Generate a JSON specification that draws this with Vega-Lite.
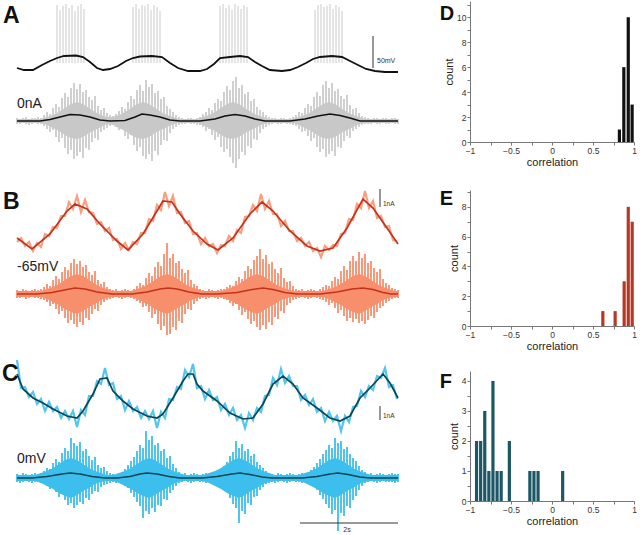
{
"$schema":"https://vega.github.io/schema/vega-lite/v6.json",
"padding":0,
"background":"white",
"config":{"font":"Liberation Sans","view":{"stroke":null},
 "axis":{"grid":false,"domainColor":"#777","tickColor":"#777","tickSize":3,"labelFontSize":8.5,"labelColor":"#333","labelPadding":1,"titleFontSize":11,"titleFontWeight":"normal","titleColor":"#222","titlePadding":2,"labelFlush":false,"labelOverlap":false}},
"hconcat":[
{"spacing":0,"vconcat":[
 {"width":399,"height":170,
  "encoding":{"x":{"field":"x","type":"quantitative","scale":{"domain":[-17,382],"nice":false,"zero":false},"axis":null},
              "y":{"field":"y","type":"quantitative","scale":{"domain":[0,170],"reverse":true,"nice":false,"zero":false},"axis":null}},
  "layer":[
   {"data":{"values":[
{"x":0,"y":117,"y2":123},{"x":3,"y":118,"y2":123},{"x":6,"y":117,"y2":122},{"x":9,"y":116,"y2":123},{"x":12,"y":118,"y2":124},{"x":15,"y":117,"y2":123},{"x":18,"y":117,"y2":122},{"x":21,"y":116,"y2":123},{"x":24,"y":117,"y2":123},{"x":27,"y":114,"y2":125},{"x":30,"y":111,"y2":128},{"x":33,"y":113,"y2":131},{"x":36,"y":107,"y2":129},{"x":39,"y":103,"y2":136},{"x":42,"y":106,"y2":141},{"x":45,"y":97,"y2":137},{"x":48,"y":92,"y2":147},{"x":51,"y":96,"y2":153},{"x":54,"y":87,"y2":149},{"x":57,"y":82,"y2":158},{"x":60,"y":88,"y2":155},{"x":63,"y":83,"y2":151},{"x":66,"y":91,"y2":157},{"x":69,"y":89,"y2":147},{"x":72,"y":96,"y2":149},{"x":75,"y":99,"y2":141},{"x":78,"y":95,"y2":137},{"x":81,"y":105,"y2":139},{"x":84,"y":109,"y2":131},{"x":87,"y":107,"y2":129},{"x":90,"y":112,"y2":127},{"x":93,"y":114,"y2":125},{"x":96,"y":115,"y2":124},{"x":99,"y":113,"y2":126},{"x":102,"y":110,"y2":129},{"x":105,"y":106,"y2":128},{"x":108,"y":108,"y2":135},{"x":111,"y":101,"y2":138},{"x":114,"y":95,"y2":134},{"x":117,"y":98,"y2":144},{"x":120,"y":89,"y2":150},{"x":123,"y":84,"y2":146},{"x":126,"y":90,"y2":155},{"x":129,"y":79,"y2":158},{"x":132,"y":86,"y2":153},{"x":135,"y":83,"y2":160},{"x":138,"y":92,"y2":150},{"x":141,"y":90,"y2":154},{"x":144,"y":98,"y2":144},{"x":147,"y":96,"y2":139},{"x":150,"y":105,"y2":140},{"x":153,"y":108,"y2":132},{"x":156,"y":111,"y2":128},{"x":159,"y":114,"y2":126},{"x":162,"y":116,"y2":124},{"x":165,"y":117,"y2":123},{"x":168,"y":118,"y2":123},{"x":171,"y":117,"y2":122},{"x":174,"y":117,"y2":123},{"x":177,"y":118,"y2":123},{"x":180,"y":117,"y2":124},{"x":183,"y":116,"y2":124},{"x":186,"y":113,"y2":126},{"x":189,"y":111,"y2":130},{"x":192,"y":107,"y2":128},{"x":195,"y":109,"y2":134},{"x":198,"y":102,"y2":139},{"x":201,"y":98,"y2":136},{"x":204,"y":100,"y2":146},{"x":207,"y":91,"y2":151},{"x":210,"y":85,"y2":148},{"x":213,"y":89,"y2":156},{"x":216,"y":80,"y2":162},{"x":219,"y":76,"y2":167},{"x":222,"y":87,"y2":158},{"x":225,"y":84,"y2":151},{"x":228,"y":93,"y2":154},{"x":231,"y":91,"y2":145},{"x":234,"y":100,"y2":147},{"x":237,"y":98,"y2":138},{"x":240,"y":106,"y2":139},{"x":243,"y":109,"y2":132},{"x":246,"y":111,"y2":128},{"x":249,"y":114,"y2":126},{"x":252,"y":116,"y2":124},{"x":255,"y":117,"y2":123},{"x":258,"y":117,"y2":122},{"x":261,"y":118,"y2":123},{"x":264,"y":117,"y2":123},{"x":267,"y":117,"y2":122},{"x":270,"y":118,"y2":123},{"x":273,"y":117,"y2":123},{"x":276,"y":116,"y2":124},{"x":279,"y":114,"y2":125},{"x":282,"y":111,"y2":128},{"x":285,"y":112,"y2":131},{"x":288,"y":107,"y2":130},{"x":291,"y":103,"y2":135},{"x":294,"y":105,"y2":140},{"x":297,"y":96,"y2":137},{"x":300,"y":91,"y2":146},{"x":303,"y":95,"y2":151},{"x":306,"y":84,"y2":148},{"x":309,"y":80,"y2":156},{"x":312,"y":87,"y2":153},{"x":315,"y":82,"y2":150},{"x":318,"y":90,"y2":155},{"x":321,"y":88,"y2":146},{"x":324,"y":95,"y2":147},{"x":327,"y":98,"y2":140},{"x":330,"y":94,"y2":135},{"x":333,"y":104,"y2":137},{"x":336,"y":108,"y2":130},{"x":339,"y":107,"y2":128},{"x":342,"y":112,"y2":126},{"x":345,"y":115,"y2":124},{"x":348,"y":116,"y2":123},{"x":351,"y":117,"y2":123},{"x":354,"y":118,"y2":123},{"x":357,"y":117,"y2":122},{"x":360,"y":117,"y2":123},{"x":363,"y":118,"y2":123},{"x":366,"y":117,"y2":122},{"x":369,"y":117,"y2":123},{"x":372,"y":118,"y2":123},{"x":375,"y":117,"y2":122},{"x":378,"y":117,"y2":123},{"x":381,"y":118,"y2":123}
   ]},"mark":{"type":"rule","color":"#cbcbcb","strokeWidth":1.8},"encoding":{"y2":{"field":"y2"}}},
   {"data":{"values":[
{"x":0,"y":118,"y2":122},{"x":6,"y":118,"y2":122},{"x":12,"y":118,"y2":122},{"x":18,"y":118,"y2":122},{"x":24,"y":118,"y2":122},{"x":30,"y":116,"y2":124},{"x":36,"y":114,"y2":127},{"x":42,"y":111,"y2":130},{"x":48,"y":107,"y2":134},{"x":54,"y":103,"y2":137},{"x":60,"y":101,"y2":138},{"x":66,"y":103,"y2":136},{"x":72,"y":107,"y2":132},{"x":78,"y":111,"y2":129},{"x":84,"y":114,"y2":126},{"x":90,"y":116,"y2":123},{"x":96,"y":116,"y2":124},{"x":102,"y":114,"y2":127},{"x":108,"y":111,"y2":130},{"x":114,"y":107,"y2":134},{"x":120,"y":103,"y2":137},{"x":126,"y":101,"y2":138},{"x":132,"y":103,"y2":136},{"x":138,"y":107,"y2":132},{"x":144,"y":111,"y2":129},{"x":150,"y":114,"y2":126},{"x":156,"y":116,"y2":123},{"x":162,"y":118,"y2":122},{"x":168,"y":118,"y2":122},{"x":174,"y":118,"y2":122},{"x":180,"y":118,"y2":122},{"x":186,"y":116,"y2":124},{"x":192,"y":114,"y2":127},{"x":198,"y":111,"y2":130},{"x":204,"y":107,"y2":134},{"x":210,"y":103,"y2":137},{"x":216,"y":101,"y2":138},{"x":222,"y":103,"y2":136},{"x":228,"y":107,"y2":132},{"x":234,"y":111,"y2":129},{"x":240,"y":114,"y2":126},{"x":246,"y":116,"y2":123},{"x":252,"y":118,"y2":122},{"x":258,"y":118,"y2":122},{"x":264,"y":118,"y2":122},{"x":270,"y":118,"y2":122},{"x":276,"y":118,"y2":122},{"x":282,"y":116,"y2":124},{"x":288,"y":114,"y2":127},{"x":294,"y":111,"y2":130},{"x":300,"y":107,"y2":134},{"x":306,"y":103,"y2":137},{"x":312,"y":101,"y2":138},{"x":318,"y":103,"y2":136},{"x":324,"y":107,"y2":132},{"x":330,"y":111,"y2":129},{"x":336,"y":114,"y2":126},{"x":342,"y":116,"y2":123},{"x":348,"y":118,"y2":122},{"x":354,"y":118,"y2":122},{"x":360,"y":118,"y2":122},{"x":366,"y":118,"y2":122},{"x":372,"y":118,"y2":122},{"x":378,"y":118,"y2":122},{"x":381,"y":118,"y2":122}
   ]},"mark":{"type":"area","color":"#c8c8c8"},"encoding":{"y2":{"field":"y2"}}},
   {"data":{"values":[
{"x":40,"y":4},{"x":43,"y":9},{"x":46,"y":5},{"x":49,"y":3},{"x":52,"y":7},{"x":55,"y":4},{"x":58,"y":10},{"x":61,"y":5},{"x":64,"y":3},{"x":67,"y":8},
{"x":116,"y":6},{"x":119,"y":3},{"x":122,"y":8},{"x":125,"y":4},{"x":128,"y":5},{"x":131,"y":3},{"x":134,"y":9},{"x":137,"y":4},{"x":140,"y":6},{"x":143,"y":10},
{"x":203,"y":5},{"x":206,"y":3},{"x":209,"y":7},{"x":212,"y":4},{"x":215,"y":9},{"x":218,"y":3},{"x":221,"y":5},{"x":224,"y":8},{"x":227,"y":4},{"x":230,"y":6},
{"x":298,"y":9},{"x":301,"y":4},{"x":304,"y":3},{"x":307,"y":6},{"x":310,"y":5},{"x":313,"y":3},{"x":316,"y":8},{"x":319,"y":4},{"x":322,"y":6},{"x":325,"y":10}
   ]},"mark":{"type":"rule","color":"#c4c4c4","strokeWidth":0.9},"encoding":{"y2":{"datum":62}}},
   {"data":{"values":[
{"x":0,"y":67},{"x":7,"y":69},{"x":16,"y":69},{"x":25,"y":64},{"x":33,"y":60},{"x":40,"y":57},{"x":47,"y":55},{"x":59,"y":54.5},{"x":66,"y":56},{"x":73,"y":61},{"x":80,"y":67},{"x":86,"y":69},{"x":93,"y":68},{"x":101,"y":65},{"x":109,"y":60},{"x":116,"y":57},{"x":123,"y":55.5},{"x":135,"y":55},{"x":145,"y":56},{"x":153,"y":62},{"x":161,"y":67},{"x":171,"y":70},{"x":183,"y":70},{"x":190,"y":68},{"x":197,"y":63},{"x":203,"y":57},{"x":213,"y":56},{"x":223,"y":55},{"x":231,"y":56},{"x":238,"y":61},{"x":245,"y":65},{"x":253,"y":69},{"x":265,"y":70},{"x":273,"y":69},{"x":281,"y":66},{"x":289,"y":62},{"x":296,"y":58},{"x":303,"y":56},{"x":315,"y":55},{"x":325,"y":56},{"x":333,"y":60},{"x":341,"y":64},{"x":349,"y":68},{"x":358,"y":70},{"x":368,"y":71},{"x":381,"y":71}
   ]},"mark":{"type":"line","color":"#111","strokeWidth":1.8},"encoding":{}},
   {"data":{"values":[
{"x":0,"y":120},{"x":23,"y":120},{"x":33,"y":118.5},{"x":43,"y":116},{"x":53,"y":113.5},{"x":63,"y":114},{"x":73,"y":116},{"x":83,"y":119},{"x":93,"y":120},{"x":108,"y":119.5},{"x":118,"y":116},{"x":125,"y":113},{"x":133,"y":114},{"x":143,"y":116},{"x":153,"y":119},{"x":163,"y":120},{"x":183,"y":120},{"x":198,"y":118},{"x":208,"y":115},{"x":218,"y":113.5},{"x":228,"y":115},{"x":238,"y":118},{"x":248,"y":120},{"x":273,"y":120},{"x":288,"y":118},{"x":301,"y":115},{"x":313,"y":113},{"x":323,"y":114.5},{"x":333,"y":117},{"x":343,"y":120},{"x":381,"y":120}
   ]},"mark":{"type":"line","color":"#111","strokeWidth":1.6},"encoding":{}},
   {"data":{"values":[{"x":356,"y":35,"y2":67}]},"mark":{"type":"rule","color":"#333","strokeWidth":1},"encoding":{"y2":{"field":"y2"}}},
   {"data":{"values":[{"x":360,"y":62,"t":"50mV"}]},"mark":{"type":"text","align":"left","baseline":"alphabetic","fontSize":7,"color":"#333"},"encoding":{"text":{"field":"t"}}},
   {"data":{"values":[{"x":0,"y":107,"t":"0nA"}]},"mark":{"type":"text","align":"left","baseline":"alphabetic","fontSize":14,"color":"#222"},"encoding":{"text":{"field":"t"}}},
   {"data":{"values":[{"x":-14,"y":22,"t":"A"}]},"mark":{"type":"text","align":"left","baseline":"alphabetic","fontSize":23,"fontWeight":"bold","color":"#111"},"encoding":{"text":{"field":"t"}}}
  ]},
 {"width":399,"height":165,
  "encoding":{"x":{"field":"x","type":"quantitative","scale":{"domain":[-17,382],"nice":false,"zero":false},"axis":null},
              "y":{"field":"y","type":"quantitative","scale":{"domain":[0,165],"reverse":true,"nice":false,"zero":false},"axis":null}},
  "layer":[
   {"data":{"values":[
{"x":0,"y":119,"y2":127},{"x":3,"y":120,"y2":127},{"x":6,"y":118,"y2":126},{"x":9,"y":119,"y2":128},{"x":12,"y":120,"y2":127},{"x":15,"y":119,"y2":126},{"x":18,"y":118,"y2":127},{"x":21,"y":119,"y2":127},{"x":24,"y":118,"y2":128},{"x":27,"y":116,"y2":129},{"x":30,"y":113,"y2":131},{"x":33,"y":115,"y2":135},{"x":36,"y":109,"y2":133},{"x":39,"y":105,"y2":138},{"x":42,"y":108,"y2":143},{"x":45,"y":101,"y2":140},{"x":48,"y":96,"y2":147},{"x":51,"y":99,"y2":152},{"x":54,"y":92,"y2":149},{"x":57,"y":88,"y2":153},{"x":60,"y":93,"y2":156},{"x":63,"y":90,"y2":151},{"x":66,"y":96,"y2":154},{"x":69,"y":94,"y2":147},{"x":72,"y":101,"y2":149},{"x":75,"y":104,"y2":143},{"x":78,"y":100,"y2":138},{"x":81,"y":109,"y2":140},{"x":84,"y":113,"y2":134},{"x":87,"y":111,"y2":131},{"x":90,"y":116,"y2":129},{"x":93,"y":118,"y2":128},{"x":96,"y":119,"y2":127},{"x":99,"y":118,"y2":126},{"x":102,"y":120,"y2":127},{"x":105,"y":119,"y2":128},{"x":108,"y":118,"y2":127},{"x":111,"y":119,"y2":126},{"x":114,"y":120,"y2":127},{"x":117,"y":118,"y2":128},{"x":120,"y":115,"y2":130},{"x":123,"y":112,"y2":132},{"x":126,"y":114,"y2":136},{"x":129,"y":107,"y2":135},{"x":132,"y":102,"y2":141},{"x":135,"y":105,"y2":147},{"x":138,"y":96,"y2":143},{"x":141,"y":91,"y2":153},{"x":144,"y":95,"y2":159},{"x":147,"y":83,"y2":155},{"x":150,"y":72,"y2":164},{"x":153,"y":87,"y2":163},{"x":156,"y":83,"y2":156},{"x":159,"y":92,"y2":159},{"x":162,"y":90,"y2":150},{"x":165,"y":98,"y2":152},{"x":168,"y":102,"y2":143},{"x":171,"y":99,"y2":138},{"x":174,"y":109,"y2":139},{"x":177,"y":113,"y2":133},{"x":180,"y":115,"y2":130},{"x":183,"y":118,"y2":128},{"x":186,"y":119,"y2":127},{"x":189,"y":120,"y2":128},{"x":192,"y":118,"y2":127},{"x":195,"y":119,"y2":126},{"x":198,"y":120,"y2":127},{"x":201,"y":119,"y2":128},{"x":204,"y":118,"y2":127},{"x":207,"y":118,"y2":128},{"x":210,"y":116,"y2":129},{"x":213,"y":114,"y2":132},{"x":216,"y":115,"y2":135},{"x":219,"y":110,"y2":133},{"x":222,"y":106,"y2":139},{"x":225,"y":108,"y2":144},{"x":228,"y":100,"y2":141},{"x":231,"y":95,"y2":148},{"x":234,"y":98,"y2":153},{"x":237,"y":89,"y2":150},{"x":240,"y":85,"y2":156},{"x":243,"y":78,"y2":159},{"x":246,"y":88,"y2":154},{"x":249,"y":84,"y2":158},{"x":252,"y":93,"y2":151},{"x":255,"y":91,"y2":154},{"x":258,"y":98,"y2":146},{"x":261,"y":102,"y2":148},{"x":264,"y":97,"y2":140},{"x":267,"y":107,"y2":142},{"x":270,"y":111,"y2":134},{"x":273,"y":110,"y2":132},{"x":276,"y":115,"y2":129},{"x":279,"y":118,"y2":128},{"x":282,"y":119,"y2":127},{"x":285,"y":118,"y2":126},{"x":288,"y":120,"y2":127},{"x":291,"y":119,"y2":128},{"x":294,"y":118,"y2":127},{"x":297,"y":119,"y2":126},{"x":300,"y":120,"y2":127},{"x":303,"y":118,"y2":128},{"x":306,"y":116,"y2":129},{"x":309,"y":114,"y2":131},{"x":312,"y":115,"y2":134},{"x":315,"y":110,"y2":132},{"x":318,"y":106,"y2":137},{"x":321,"y":108,"y2":142},{"x":324,"y":100,"y2":139},{"x":327,"y":95,"y2":145},{"x":330,"y":99,"y2":150},{"x":333,"y":90,"y2":147},{"x":336,"y":85,"y2":151},{"x":339,"y":90,"y2":148},{"x":342,"y":81,"y2":152},{"x":345,"y":87,"y2":150},{"x":348,"y":83,"y2":153},{"x":351,"y":92,"y2":149},{"x":354,"y":90,"y2":145},{"x":357,"y":97,"y2":147},{"x":360,"y":101,"y2":141},{"x":363,"y":98,"y2":137},{"x":366,"y":108,"y2":135},{"x":369,"y":112,"y2":132},{"x":372,"y":114,"y2":130},{"x":375,"y":117,"y2":128},{"x":378,"y":118,"y2":127},{"x":381,"y":119,"y2":127}
   ]},"mark":{"type":"rule","color":"#f78e6c","strokeWidth":1.8},"encoding":{"y2":{"field":"y2"}}},
   {"data":{"values":[
{"x":0,"y":120,"y2":126},{"x":6,"y":120,"y2":126},{"x":12,"y":120,"y2":126},{"x":18,"y":120,"y2":126},{"x":24,"y":120,"y2":126},{"x":30,"y":118,"y2":128},{"x":36,"y":116,"y2":131},{"x":42,"y":113,"y2":134},{"x":48,"y":109,"y2":138},{"x":54,"y":105,"y2":141},{"x":60,"y":103,"y2":143},{"x":66,"y":105,"y2":140},{"x":72,"y":109,"y2":136},{"x":78,"y":113,"y2":133},{"x":84,"y":116,"y2":129},{"x":90,"y":118,"y2":127},{"x":96,"y":120,"y2":126},{"x":102,"y":120,"y2":126},{"x":108,"y":120,"y2":126},{"x":114,"y":120,"y2":126},{"x":120,"y":118,"y2":128},{"x":126,"y":116,"y2":131},{"x":132,"y":113,"y2":134},{"x":138,"y":109,"y2":138},{"x":144,"y":105,"y2":141},{"x":150,"y":103,"y2":143},{"x":156,"y":105,"y2":140},{"x":162,"y":109,"y2":136},{"x":168,"y":113,"y2":133},{"x":174,"y":116,"y2":129},{"x":180,"y":118,"y2":127},{"x":186,"y":120,"y2":126},{"x":192,"y":120,"y2":126},{"x":198,"y":120,"y2":126},{"x":204,"y":120,"y2":126},{"x":210,"y":118,"y2":128},{"x":216,"y":116,"y2":131},{"x":222,"y":113,"y2":134},{"x":228,"y":109,"y2":138},{"x":234,"y":105,"y2":141},{"x":240,"y":103,"y2":143},{"x":246,"y":105,"y2":140},{"x":252,"y":109,"y2":136},{"x":258,"y":113,"y2":133},{"x":264,"y":116,"y2":129},{"x":270,"y":118,"y2":127},{"x":276,"y":120,"y2":126},{"x":282,"y":120,"y2":126},{"x":288,"y":120,"y2":126},{"x":294,"y":120,"y2":126},{"x":300,"y":120,"y2":126},{"x":306,"y":120,"y2":126},{"x":312,"y":118,"y2":128},{"x":318,"y":116,"y2":131},{"x":324,"y":113,"y2":134},{"x":330,"y":109,"y2":138},{"x":336,"y":105,"y2":141},{"x":342,"y":103,"y2":143},{"x":348,"y":105,"y2":140},{"x":354,"y":109,"y2":136},{"x":360,"y":113,"y2":133},{"x":366,"y":116,"y2":129},{"x":372,"y":118,"y2":127},{"x":378,"y":120,"y2":126},{"x":381,"y":120,"y2":126}
   ]},"mark":{"type":"area","color":"#f78e6c"},"encoding":{"y2":{"field":"y2"}}},
   {"data":{"values":[
{"x":0,"y":71},{"x":4,"y":67},{"x":8,"y":75},{"x":12,"y":71},{"x":16,"y":80},{"x":20,"y":72},{"x":24,"y":76},{"x":28,"y":63},{"x":32,"y":65},{"x":36,"y":56},{"x":40,"y":57},{"x":44,"y":45},{"x":48,"y":45},{"x":52,"y":31},{"x":56,"y":38},{"x":60,"y":25},{"x":64,"y":41},{"x":68,"y":29},{"x":72,"y":41},{"x":76,"y":42},{"x":80,"y":53},{"x":84,"y":51},{"x":88,"y":60},{"x":92,"y":57},{"x":96,"y":69},{"x":100,"y":68},{"x":104,"y":78},{"x":108,"y":72},{"x":112,"y":79},{"x":116,"y":71},{"x":120,"y":73},{"x":124,"y":62},{"x":128,"y":62},{"x":132,"y":48},{"x":136,"y":50},{"x":140,"y":34},{"x":144,"y":39},{"x":148,"y":21},{"x":152,"y":35},{"x":156,"y":25},{"x":160,"y":42},{"x":164,"y":41},{"x":168,"y":52},{"x":172,"y":50},{"x":176,"y":63},{"x":180,"y":62},{"x":184,"y":73},{"x":188,"y":67},{"x":192,"y":75},{"x":196,"y":73},{"x":200,"y":82},{"x":204,"y":74},{"x":208,"y":75},{"x":212,"y":65},{"x":216,"y":70},{"x":220,"y":59},{"x":224,"y":62},{"x":228,"y":46},{"x":232,"y":45},{"x":236,"y":34},{"x":240,"y":40},{"x":244,"y":23},{"x":248,"y":38},{"x":252,"y":30},{"x":256,"y":43},{"x":260,"y":43},{"x":264,"y":55},{"x":268,"y":50},{"x":272,"y":60},{"x":276,"y":60},{"x":280,"y":70},{"x":284,"y":67},{"x":288,"y":75},{"x":292,"y":71},{"x":296,"y":80},{"x":300,"y":77},{"x":304,"y":86},{"x":308,"y":75},{"x":312,"y":79},{"x":316,"y":74},{"x":320,"y":75},{"x":324,"y":63},{"x":328,"y":62},{"x":332,"y":48},{"x":336,"y":49},{"x":340,"y":33},{"x":344,"y":37},{"x":348,"y":20},{"x":352,"y":37},{"x":356,"y":30},{"x":360,"y":47},{"x":364,"y":45},{"x":368,"y":56},{"x":372,"y":55},{"x":376,"y":69},{"x":380,"y":70}
   ]},"mark":{"type":"line","color":"#f7a080","strokeWidth":2.2},"encoding":{}},
   {"data":{"values":[
{"x":0,"y":67},{"x":15,"y":78},{"x":33,"y":63},{"x":50,"y":40},{"x":58,"y":33},{"x":70,"y":38},{"x":83,"y":53},{"x":100,"y":70},{"x":111,"y":79},{"x":126,"y":63},{"x":140,"y":40},{"x":146,"y":30},{"x":155,"y":31},{"x":163,"y":43},{"x":176,"y":60},{"x":190,"y":73},{"x":201,"y":79},{"x":216,"y":67},{"x":233,"y":43},{"x":245,"y":31},{"x":256,"y":40},{"x":273,"y":60},{"x":290,"y":75},{"x":303,"y":80},{"x":316,"y":77},{"x":330,"y":57},{"x":346,"y":28},{"x":356,"y":37},{"x":370,"y":57},{"x":381,"y":73}
   ]},"mark":{"type":"line","color":"#c5321c","strokeWidth":1.7},"encoding":{}},
   {"data":{"values":[
{"x":0,"y":123},{"x":20,"y":123},{"x":35,"y":121.5},{"x":50,"y":118.5},{"x":58,"y":117},{"x":68,"y":118},{"x":80,"y":121},{"x":95,"y":123},{"x":115,"y":123},{"x":130,"y":121},{"x":143,"y":118},{"x":151,"y":117},{"x":160,"y":118},{"x":172,"y":121},{"x":185,"y":123},{"x":200,"y":123},{"x":220,"y":121.5},{"x":235,"y":118.5},{"x":246,"y":117},{"x":256,"y":118.5},{"x":268,"y":121.5},{"x":280,"y":123},{"x":303,"y":123},{"x":320,"y":121},{"x":335,"y":118},{"x":346,"y":117},{"x":356,"y":118.5},{"x":366,"y":121.5},{"x":374,"y":123},{"x":381,"y":123}
   ]},"mark":{"type":"line","color":"#c5321c","strokeWidth":1.5},"encoding":{}},
   {"data":{"values":[{"x":363,"y":18,"y2":36}]},"mark":{"type":"rule","color":"#333","strokeWidth":1},"encoding":{"y2":{"field":"y2"}}},
   {"data":{"values":[{"x":366,"y":35,"t":"1nA"}]},"mark":{"type":"text","align":"left","baseline":"alphabetic","fontSize":6.5,"color":"#333"},"encoding":{"text":{"field":"t"}}},
   {"data":{"values":[{"x":0,"y":100,"t":"-65mV"}]},"mark":{"type":"text","align":"left","baseline":"alphabetic","fontSize":14,"color":"#222"},"encoding":{"text":{"field":"t"}}},
   {"data":{"values":[{"x":-14,"y":38,"t":"B"}]},"mark":{"type":"text","align":"left","baseline":"alphabetic","fontSize":23,"fontWeight":"bold","color":"#111"},"encoding":{"text":{"field":"t"}}}
  ]},
 {"width":399,"height":200,
  "encoding":{"x":{"field":"x","type":"quantitative","scale":{"domain":[-17,382],"nice":false,"zero":false},"axis":null},
              "y":{"field":"y","type":"quantitative","scale":{"domain":[0,200],"reverse":true,"nice":false,"zero":false},"axis":null}},
  "layer":[
   {"data":{"values":[
{"x":0,"y":138,"y2":146},{"x":3,"y":139,"y2":147},{"x":6,"y":137,"y2":146},{"x":9,"y":138,"y2":145},{"x":12,"y":139,"y2":146},{"x":15,"y":138,"y2":147},{"x":18,"y":137,"y2":146},{"x":21,"y":138,"y2":146},{"x":24,"y":137,"y2":147},{"x":27,"y":135,"y2":148},{"x":30,"y":132,"y2":150},{"x":33,"y":133,"y2":153},{"x":36,"y":127,"y2":152},{"x":39,"y":123,"y2":156},{"x":42,"y":126,"y2":161},{"x":45,"y":117,"y2":158},{"x":48,"y":112,"y2":164},{"x":51,"y":115,"y2":169},{"x":54,"y":102,"y2":167},{"x":57,"y":107,"y2":172},{"x":60,"y":110,"y2":169},{"x":63,"y":106,"y2":166},{"x":66,"y":115,"y2":168},{"x":69,"y":113,"y2":162},{"x":72,"y":120,"y2":164},{"x":75,"y":124,"y2":158},{"x":78,"y":121,"y2":155},{"x":81,"y":129,"y2":156},{"x":84,"y":132,"y2":151},{"x":87,"y":131,"y2":149},{"x":90,"y":135,"y2":148},{"x":93,"y":137,"y2":147},{"x":96,"y":138,"y2":146},{"x":99,"y":139,"y2":147},{"x":102,"y":137,"y2":146},{"x":105,"y":136,"y2":147},{"x":108,"y":133,"y2":150},{"x":111,"y":129,"y2":152},{"x":114,"y":125,"y2":157},{"x":117,"y":121,"y2":161},{"x":120,"y":115,"y2":166},{"x":123,"y":109,"y2":170},{"x":126,"y":112,"y2":182},{"x":129,"y":95,"y2":175},{"x":132,"y":104,"y2":178},{"x":135,"y":100,"y2":172},{"x":138,"y":109,"y2":176},{"x":141,"y":107,"y2":169},{"x":144,"y":115,"y2":170},{"x":147,"y":113,"y2":163},{"x":150,"y":122,"y2":164},{"x":153,"y":120,"y2":157},{"x":156,"y":128,"y2":154},{"x":159,"y":132,"y2":150},{"x":162,"y":136,"y2":147},{"x":165,"y":138,"y2":146},{"x":168,"y":137,"y2":145},{"x":171,"y":139,"y2":146},{"x":174,"y":138,"y2":147},{"x":177,"y":137,"y2":146},{"x":180,"y":138,"y2":145},{"x":183,"y":139,"y2":146},{"x":186,"y":138,"y2":146},{"x":189,"y":137,"y2":147},{"x":192,"y":138,"y2":145},{"x":195,"y":139,"y2":146},{"x":198,"y":137,"y2":147},{"x":201,"y":136,"y2":148},{"x":204,"y":133,"y2":150},{"x":207,"y":130,"y2":153},{"x":210,"y":126,"y2":156},{"x":213,"y":120,"y2":162},{"x":216,"y":116,"y2":168},{"x":219,"y":105,"y2":172},{"x":222,"y":112,"y2":187},{"x":225,"y":108,"y2":175},{"x":228,"y":115,"y2":178},{"x":231,"y":113,"y2":167},{"x":234,"y":120,"y2":169},{"x":237,"y":118,"y2":161},{"x":240,"y":126,"y2":160},{"x":243,"y":129,"y2":154},{"x":246,"y":132,"y2":151},{"x":249,"y":135,"y2":148},{"x":252,"y":137,"y2":147},{"x":255,"y":138,"y2":146},{"x":258,"y":139,"y2":147},{"x":261,"y":137,"y2":146},{"x":264,"y":138,"y2":145},{"x":267,"y":139,"y2":146},{"x":270,"y":138,"y2":147},{"x":273,"y":137,"y2":146},{"x":276,"y":138,"y2":145},{"x":279,"y":139,"y2":146},{"x":282,"y":138,"y2":146},{"x":285,"y":137,"y2":147},{"x":288,"y":138,"y2":146},{"x":291,"y":136,"y2":147},{"x":294,"y":134,"y2":149},{"x":297,"y":131,"y2":151},{"x":300,"y":127,"y2":154},{"x":303,"y":123,"y2":159},{"x":306,"y":118,"y2":163},{"x":309,"y":114,"y2":168},{"x":312,"y":109,"y2":172},{"x":315,"y":112,"y2":178},{"x":318,"y":102,"y2":174},{"x":321,"y":107,"y2":195},{"x":324,"y":105,"y2":177},{"x":327,"y":113,"y2":180},{"x":330,"y":111,"y2":170},{"x":333,"y":118,"y2":172},{"x":336,"y":122,"y2":164},{"x":339,"y":125,"y2":160},{"x":342,"y":130,"y2":154},{"x":345,"y":134,"y2":150},{"x":348,"y":136,"y2":147},{"x":351,"y":138,"y2":146},{"x":354,"y":137,"y2":145},{"x":357,"y":139,"y2":146},{"x":360,"y":138,"y2":147},{"x":363,"y":137,"y2":146},{"x":366,"y":138,"y2":145},{"x":369,"y":139,"y2":146},{"x":372,"y":138,"y2":146},{"x":375,"y":137,"y2":146},{"x":378,"y":138,"y2":147},{"x":381,"y":138,"y2":146}
   ]},"mark":{"type":"rule","color":"#3cbfec","strokeWidth":1.8},"encoding":{"y2":{"field":"y2"}}},
   {"data":{"values":[
{"x":0,"y":139,"y2":145},{"x":6,"y":139,"y2":145},{"x":12,"y":139,"y2":145},{"x":18,"y":139,"y2":145},{"x":24,"y":137,"y2":147},{"x":30,"y":135,"y2":150},{"x":36,"y":132,"y2":153},{"x":42,"y":128,"y2":157},{"x":48,"y":124,"y2":160},{"x":54,"y":122,"y2":162},{"x":60,"y":124,"y2":159},{"x":66,"y":128,"y2":155},{"x":72,"y":132,"y2":152},{"x":78,"y":135,"y2":148},{"x":84,"y":137,"y2":146},{"x":90,"y":139,"y2":145},{"x":96,"y":139,"y2":145},{"x":102,"y":137,"y2":147},{"x":108,"y":135,"y2":150},{"x":114,"y":132,"y2":153},{"x":120,"y":128,"y2":157},{"x":126,"y":124,"y2":160},{"x":132,"y":122,"y2":162},{"x":138,"y":124,"y2":159},{"x":144,"y":128,"y2":155},{"x":150,"y":132,"y2":152},{"x":156,"y":135,"y2":148},{"x":162,"y":137,"y2":146},{"x":168,"y":139,"y2":145},{"x":174,"y":139,"y2":145},{"x":180,"y":139,"y2":145},{"x":186,"y":139,"y2":145},{"x":192,"y":137,"y2":147},{"x":198,"y":135,"y2":150},{"x":204,"y":132,"y2":153},{"x":210,"y":128,"y2":157},{"x":216,"y":124,"y2":160},{"x":222,"y":122,"y2":162},{"x":228,"y":124,"y2":159},{"x":234,"y":128,"y2":155},{"x":240,"y":132,"y2":152},{"x":246,"y":135,"y2":148},{"x":252,"y":137,"y2":146},{"x":258,"y":139,"y2":145},{"x":264,"y":139,"y2":145},{"x":270,"y":139,"y2":145},{"x":276,"y":139,"y2":145},{"x":282,"y":139,"y2":145},{"x":288,"y":137,"y2":147},{"x":294,"y":135,"y2":150},{"x":300,"y":132,"y2":153},{"x":306,"y":128,"y2":157},{"x":312,"y":124,"y2":160},{"x":318,"y":122,"y2":162},{"x":324,"y":124,"y2":159},{"x":330,"y":128,"y2":155},{"x":336,"y":132,"y2":152},{"x":342,"y":135,"y2":148},{"x":348,"y":137,"y2":146},{"x":354,"y":139,"y2":145},{"x":360,"y":139,"y2":145},{"x":366,"y":139,"y2":145},{"x":372,"y":139,"y2":145},{"x":378,"y":139,"y2":145},{"x":381,"y":139,"y2":145}
   ]},"mark":{"type":"area","color":"#3cbfec"},"encoding":{"y2":{"field":"y2"}}},
   {"data":{"values":[
{"x":0,"y":24},{"x":4,"y":52},{"x":8,"y":51},{"x":12,"y":61},{"x":16,"y":56},{"x":20,"y":68},{"x":24,"y":63},{"x":28,"y":75},{"x":32,"y":66},{"x":36,"y":75},{"x":40,"y":71},{"x":44,"y":82},{"x":48,"y":75},{"x":52,"y":83},{"x":56,"y":75},{"x":60,"y":91},{"x":64,"y":74},{"x":68,"y":79},{"x":72,"y":60},{"x":76,"y":60},{"x":80,"y":45},{"x":84,"y":48},{"x":88,"y":32},{"x":92,"y":49},{"x":96,"y":47},{"x":100,"y":63},{"x":104,"y":60},{"x":108,"y":74},{"x":112,"y":65},{"x":116,"y":75},{"x":120,"y":71},{"x":124,"y":82},{"x":128,"y":75},{"x":132,"y":83},{"x":136,"y":75},{"x":140,"y":92},{"x":144,"y":76},{"x":148,"y":82},{"x":152,"y":63},{"x":156,"y":64},{"x":160,"y":51},{"x":164,"y":53},{"x":168,"y":34},{"x":172,"y":41},{"x":176,"y":28},{"x":180,"y":52},{"x":184,"y":50},{"x":188,"y":63},{"x":192,"y":54},{"x":196,"y":64},{"x":200,"y":61},{"x":204,"y":74},{"x":208,"y":68},{"x":212,"y":79},{"x":216,"y":72},{"x":220,"y":84},{"x":224,"y":79},{"x":228,"y":92},{"x":232,"y":77},{"x":236,"y":84},{"x":240,"y":72},{"x":244,"y":76},{"x":248,"y":60},{"x":252,"y":59},{"x":256,"y":42},{"x":260,"y":49},{"x":264,"y":33},{"x":268,"y":47},{"x":272,"y":40},{"x":276,"y":50},{"x":280,"y":50},{"x":284,"y":64},{"x":288,"y":59},{"x":292,"y":69},{"x":296,"y":63},{"x":300,"y":76},{"x":304,"y":72},{"x":308,"y":85},{"x":312,"y":76},{"x":316,"y":85},{"x":320,"y":80},{"x":324,"y":95},{"x":328,"y":80},{"x":332,"y":86},{"x":336,"y":71},{"x":340,"y":70},{"x":344,"y":55},{"x":348,"y":61},{"x":352,"y":50},{"x":356,"y":54},{"x":360,"y":40},{"x":364,"y":42},{"x":368,"y":32},{"x":372,"y":51},{"x":376,"y":49},{"x":380,"y":63}
   ]},"mark":{"type":"line","color":"#52c6ee","strokeWidth":2.2},"encoding":{}},
   {"data":{"values":[
{"x":0,"y":38},{"x":6,"y":53},{"x":16,"y":62},{"x":26,"y":67},{"x":36,"y":73},{"x":50,"y":80},{"x":60,"y":82},{"x":66,"y":75},{"x":76,"y":58},{"x":83,"y":43},{"x":90,"y":42},{"x":96,"y":55},{"x":106,"y":65},{"x":116,"y":73},{"x":130,"y":80},{"x":140,"y":82},{"x":146,"y":78},{"x":156,"y":62},{"x":166,"y":45},{"x":171,"y":38},{"x":176,"y":38},{"x":180,"y":48},{"x":186,"y":55},{"x":200,"y":65},{"x":213,"y":77},{"x":226,"y":83},{"x":236,"y":82},{"x":246,"y":68},{"x":256,"y":48},{"x":266,"y":40},{"x":276,"y":48},{"x":286,"y":62},{"x":300,"y":72},{"x":313,"y":82},{"x":323,"y":85},{"x":333,"y":80},{"x":343,"y":62},{"x":353,"y":52},{"x":366,"y":38},{"x":373,"y":47},{"x":381,"y":62}
   ]},"mark":{"type":"line","color":"#0e4556","strokeWidth":1.7},"encoding":{}},
   {"data":{"values":[
{"x":0,"y":142},{"x":15,"y":142},{"x":30,"y":140.5},{"x":45,"y":138},{"x":53,"y":137},{"x":63,"y":138},{"x":75,"y":140.5},{"x":88,"y":142},{"x":100,"y":142},{"x":113,"y":140.5},{"x":123,"y":138},{"x":130,"y":137},{"x":140,"y":138},{"x":152,"y":140.5},{"x":163,"y":142},{"x":185,"y":142},{"x":200,"y":140.5},{"x":215,"y":138},{"x":223,"y":137},{"x":233,"y":138.5},{"x":245,"y":141},{"x":255,"y":142},{"x":285,"y":142},{"x":300,"y":140.5},{"x":313,"y":138},{"x":321,"y":137},{"x":331,"y":138.5},{"x":343,"y":141},{"x":353,"y":142},{"x":381,"y":142}
   ]},"mark":{"type":"line","color":"#0e4556","strokeWidth":1.5},"encoding":{}},
   {"data":{"values":[{"x":363,"y":70,"y2":84}]},"mark":{"type":"rule","color":"#333","strokeWidth":1},"encoding":{"y2":{"field":"y2"}}},
   {"data":{"values":[{"x":283,"x2":381,"y":187}]},"mark":{"type":"rule","color":"#333","strokeWidth":1},"encoding":{"x2":{"field":"x2"}}},
   {"data":{"values":[{"x":366,"y":82,"t":"1nA"}]},"mark":{"type":"text","align":"left","baseline":"alphabetic","fontSize":6.5,"color":"#333"},"encoding":{"text":{"field":"t"}}},
   {"data":{"values":[{"x":330,"y":196,"t":"2s"}]},"mark":{"type":"text","align":"center","baseline":"alphabetic","fontSize":7,"color":"#333"},"encoding":{"text":{"field":"t"}}},
   {"data":{"values":[{"x":0,"y":127,"t":"0mV"}]},"mark":{"type":"text","align":"left","baseline":"alphabetic","fontSize":14,"color":"#222"},"encoding":{"text":{"field":"t"}}},
   {"data":{"values":[{"x":-15,"y":45,"t":"C"}]},"mark":{"type":"text","align":"left","baseline":"alphabetic","fontSize":23,"fontWeight":"bold","color":"#111"},"encoding":{"text":{"field":"t"}}}
  ]}
]},
{"spacing":19,"vconcat":[
 {"width":164,"height":141,
  "encoding":{"x":{"field":"r","type":"quantitative","scale":{"domain":[-1,1],"nice":false,"padding":0},"axis":{"title":"correlation","values":[-1,-0.75,-0.5,-0.25,0,0.25,0.5,0.75,1],"format":"~g","labelExpr":"datum.value % 0.5 === 0 ? datum.label : ''"}},
              "y":{"field":"n","type":"quantitative","scale":{"domain":[0,11.3],"nice":false},"axis":{"title":"count","values":[0,1,2,3,4,5,6,7,8,9,10,11],"format":"d","labelExpr":"datum.value % 2 === 0 ? datum.label : ''"}}},
  "layer":[
   {"data":{"values":[{"r":0.822,"n":1},{"r":0.876,"n":6},{"r":0.93,"n":10},{"r":0.977,"n":3}]},"mark":{"type":"bar","orient":"vertical","width":3.2,"color":"#111"}},
   {"data":{"values":[{"r":-1.37,"n":9.78,"t":"D"}]},"mark":{"type":"text","align":"left","baseline":"alphabetic","fontSize":20,"fontWeight":"bold","color":"#111"},"encoding":{"text":{"field":"t"}}}
  ]},
 {"width":164,"height":136,
  "encoding":{"x":{"field":"r","type":"quantitative","scale":{"domain":[-1,1],"nice":false,"padding":0},"axis":{"title":"correlation","values":[-1,-0.75,-0.5,-0.25,0,0.25,0.5,0.75,1],"format":"~g","labelExpr":"datum.value % 0.5 === 0 ? datum.label : ''"}},
              "y":{"field":"n","type":"quantitative","scale":{"domain":[0,9.13],"nice":false},"axis":{"title":"count","values":[0,1,2,3,4,5,6,7,8,9],"format":"d","labelExpr":"datum.value % 2 === 0 ? datum.label : ''"}}},
  "layer":[
   {"data":{"values":[{"r":0.62,"n":1},{"r":0.77,"n":1},{"r":0.88,"n":3},{"r":0.93,"n":8},{"r":0.978,"n":7}]},"mark":{"type":"bar","orient":"vertical","width":3.2,"color":"#b53a25"}},
   {"data":{"values":[{"r":-1.37,"n":8.1,"t":"E"}]},"mark":{"type":"text","align":"left","baseline":"alphabetic","fontSize":20,"fontWeight":"bold","color":"#111"},"encoding":{"text":{"field":"t"}}}
  ]},
 {"width":164,"height":130,
  "encoding":{"x":{"field":"r","type":"quantitative","scale":{"domain":[-1,1],"nice":false,"padding":0},"axis":{"title":"correlation","values":[-1,-0.75,-0.5,-0.25,0,0.25,0.5,0.75,1],"format":"~g","labelExpr":"datum.value % 0.5 === 0 ? datum.label : ''"}},
              "y":{"field":"n","type":"quantitative","scale":{"domain":[0,4.33],"nice":false},"axis":{"title":"count","values":[0,0.5,1,1.5,2,2.5,3,3.5,4],"format":"~g","labelExpr":"datum.value % 1 === 0 ? datum.label : ''"}}},
  "layer":[
   {"data":{"values":[{"r":-0.92,"n":2},{"r":-0.87,"n":2},{"r":-0.82,"n":3},{"r":-0.77,"n":1},{"r":-0.72,"n":4},{"r":-0.67,"n":1},{"r":-0.62,"n":1},{"r":-0.52,"n":2},{"r":-0.27,"n":1},{"r":-0.22,"n":1},{"r":-0.17,"n":1},{"r":0.13,"n":1}]},"mark":{"type":"bar","orient":"vertical","width":3.2,"color":"#1c5766"}},
   {"data":{"values":[{"r":-1.37,"n":3.78,"t":"F"}]},"mark":{"type":"text","align":"left","baseline":"alphabetic","fontSize":20,"fontWeight":"bold","color":"#111"},"encoding":{"text":{"field":"t"}}}
  ]}
]}
],
"spacing":37
}
